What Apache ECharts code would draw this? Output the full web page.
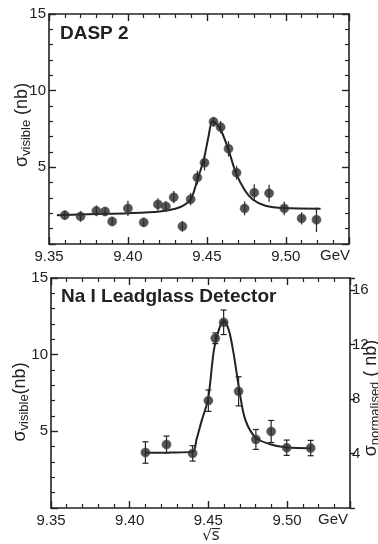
<!DOCTYPE html>
<html>
<head>
<meta charset="utf-8">
<script src="https://cdn.jsdelivr.net/npm/echarts@6/dist/echarts.min.js"></script>
<style>
  html, body { margin: 0; padding: 0; background: #fff; }
  #chart { width: 378px; height: 544px; }
</style>
</head>
<body>
<div id="chart"></div>
<script>
// Upsilon(9.46) scan: DASP 2 (upper panel) and NaI / lead-glass detector (lower panel)

// Upper panel: measured points (GeV, nb) with errors
const daspEnergy = [9.360, 9.370, 9.380, 9.3855, 9.390, 9.400, 9.410, 9.419, 9.424, 9.429,
                    9.4345, 9.4397, 9.444, 9.4485, 9.4542, 9.4587, 9.4637, 9.4688, 9.4739, 9.480,
                    9.4894, 9.499, 9.510, 9.5194];
const daspSigma  = [1.88, 1.80, 2.16, 2.12, 1.47, 2.32, 1.41, 2.58, 2.45, 3.05,
                    1.15, 2.92, 4.33, 5.30, 7.97, 7.62, 6.21, 4.65, 2.32, 3.35,
                    3.31, 2.32, 1.67, 1.58];
const daspError  = [0.30, 0.35, 0.35, 0.30, 0.30, 0.50, 0.30, 0.40, 0.35, 0.40,
                    0.35, 0.40, 0.45, 0.50, 0.30, 0.40, 0.50, 0.45, 0.45, 0.55,
                    0.55, 0.45, 0.40, 0.80];

// Upper panel: fitted resonance curve
const daspFitEnergy = [9.355, 9.380, 9.400, 9.420, 9.430, 9.435, 9.440, 9.444, 9.448, 9.451,
                       9.4535, 9.456, 9.459, 9.4635, 9.4685, 9.474, 9.479, 9.487, 9.499, 9.522];
const daspFitSigma  = [1.88, 1.95, 2.01, 2.12, 2.30, 2.50, 2.95, 4.20, 5.50, 7.00,
                       8.00, 7.85, 7.40, 6.20, 4.60, 3.50, 2.90, 2.50, 2.34, 2.30];

// Lower panel: measured points (GeV, nb) with errors
const naiEnergy = [9.410, 9.4234, 9.440, 9.450, 9.4544, 9.4597, 9.4692, 9.4802, 9.4899, 9.4998, 9.515];
const naiSigma  = [3.62, 4.14, 3.56, 7.00, 11.07, 12.11, 7.61, 4.47, 4.99, 3.93, 3.91];
const naiError  = [0.70, 0.55, 0.50, 0.70, 0.35, 0.80, 0.95, 0.65, 0.72, 0.50, 0.50];

// Lower panel: fitted resonance curve
const naiFitEnergy = [9.410, 9.425, 9.440, 9.4425, 9.446, 9.4498, 9.4535, 9.4566, 9.4597,
                      9.463, 9.466, 9.4698, 9.4734, 9.480, 9.4892, 9.500, 9.515];
const naiFitSigma  = [3.60, 3.62, 3.66, 4.48, 5.78, 7.08, 10.30, 11.60, 12.23,
                      11.60, 10.10, 7.60, 5.78, 4.59, 4.16, 3.94, 3.90];

// Axis labelling
const energyTickLabels = ['9.35', '9.40', '9.45', '9.50'];
const sigmaTickLabels = [5, 10, 15];
const normTickLabels = [4, 8, 12, 16];

const INK = '#222222';
const FONT = '"Liberation Sans", Arial, sans-serif';

const zip = (xs, ys) => xs.map((x, i) => [x, ys[i]]);
const bars = (xs, ys, es) => xs.map((x, i) => [x, ys[i] - es[i], ys[i] + es[i]]);

// Frame axes carry their ticks pointing into the plot
function energyAxis(grid, pos, labels) {
  return {
    type: 'value', gridIndex: grid, position: pos,
    min: 9.35, max: 9.54, interval: 0.05,
    axisLine: { show: true, onZero: false, lineStyle: { color: INK, width: 1.6 } },
    axisTick: { show: true, inside: true, length: 7, lineStyle: { color: INK, width: 1.4 } },
    minorTick: { show: true, splitNumber: 5, length: 4, lineStyle: { color: INK, width: 1.2 } },
    splitLine: { show: false },
    minorSplitLine: { show: false },
    axisLabel: {
      show: labels, margin: 5, color: INK, fontFamily: FONT, fontSize: 15,
      formatter: v => {
        const s = v.toFixed(2);
        return energyTickLabels.includes(s) ? s : '';
      }
    }
  };
}

function sigmaAxis(grid, pos, labels) {
  return {
    type: 'value', gridIndex: grid, position: pos,
    min: 0, max: 15, interval: 5,
    axisLine: { show: true, onZero: false, lineStyle: { color: INK, width: 1.6 } },
    axisTick: { show: true, inside: true, length: 7, lineStyle: { color: INK, width: 1.4 } },
    minorTick: { show: true, splitNumber: 5, length: 4, lineStyle: { color: INK, width: 1.2 } },
    splitLine: { show: false },
    axisLabel: {
      show: labels, margin: 3, color: INK, fontFamily: FONT, fontSize: 15,
      formatter: v => sigmaTickLabels.includes(Math.round(v)) && Math.abs(v - Math.round(v)) < 1e-6 ? String(Math.round(v)) : ''
    }
  };
}

const normAxis = {
  type: 'value', gridIndex: 1, position: 'right',
  min: 0, max: 16.9, interval: 4,
  axisLine: { show: true, onZero: false, lineStyle: { color: INK, width: 1.6 } },
  axisTick: { show: true, inside: false, length: 5, lineStyle: { color: INK, width: 1.4 } },
  splitLine: { show: false },
  axisLabel: {
    show: true, margin: 2, color: INK, fontFamily: FONT, fontSize: 15,
    formatter: v => normTickLabels.includes(v) ? String(v) : ''
  }
};

function errorBars(xi, yi, data, cap) {
  return {
    type: 'custom', xAxisIndex: xi, yAxisIndex: yi, silent: true, z: 3,
    data: data,
    renderItem: (params, api) => {
      const lo = api.coord([api.value(0), api.value(1)]);
      const hi = api.coord([api.value(0), api.value(2)]);
      const st = { stroke: INK, lineWidth: 1.2 };
      const children = [{ type: 'line', shape: { x1: lo[0], y1: lo[1], x2: hi[0], y2: hi[1] }, style: st }];
      if (cap) {
        children.push({ type: 'line', shape: { x1: lo[0] - 3, y1: lo[1], x2: lo[0] + 3, y2: lo[1] }, style: st });
        children.push({ type: 'line', shape: { x1: hi[0] - 3, y1: hi[1], x2: hi[0] + 3, y2: hi[1] }, style: st });
      }
      return { type: 'group', children };
    }
  };
}

function fitLine(xi, yi, data) {
  return {
    type: 'line', xAxisIndex: xi, yAxisIndex: yi, data: data,
    smooth: 0.3, showSymbol: false, silent: true, z: 2,
    lineStyle: { color: INK, width: 2 }
  };
}

function points(xi, yi, data) {
  return {
    type: 'scatter', xAxisIndex: xi, yAxisIndex: yi, data: data,
    symbol: 'circle', symbolSize: 9, silent: true, z: 4,
    itemStyle: { color: '#2b2b2b', borderColor: '#555', borderWidth: 0.8 }
  };
}

function rotatedTitle(x, y, main, sub, tail, size) {
  return {
    type: 'text', x: x, y: y, rotation: Math.PI / 2,
    style: {
      text: '{m|' + main + '}{s|' + sub + '}{m|' + tail + '}',
      align: 'center', verticalAlign: 'middle',
      rich: {
        m: { fontFamily: FONT, fontSize: size, fill: INK, lineHeight: 22, verticalAlign: 'middle' },
        s: { fontFamily: FONT, fontSize: size - 5, fill: INK, lineHeight: 22, verticalAlign: 'bottom' }
      }
    }
  };
}

const chart = echarts.init(document.getElementById('chart'), null, { renderer: 'canvas' });

chart.setOption({
  backgroundColor: '#ffffff',
  animation: false,
  grid: [
    { left: 49, top: 14, width: 300, height: 230 },
    { left: 51, top: 278, width: 299, height: 230 }
  ],
  xAxis: [
    energyAxis(0, 'bottom', true),
    energyAxis(0, 'top', false),
    energyAxis(1, 'bottom', true),
    energyAxis(1, 'top', false)
  ],
  yAxis: [
    sigmaAxis(0, 'left', true),
    sigmaAxis(0, 'right', false),
    sigmaAxis(1, 'left', true),
    normAxis
  ],
  series: [
    fitLine(0, 0, zip(daspFitEnergy, daspFitSigma)),
    errorBars(0, 0, bars(daspEnergy, daspSigma, daspError), false),
    points(0, 0, zip(daspEnergy, daspSigma)),
    fitLine(2, 2, zip(naiFitEnergy, naiFitSigma)),
    errorBars(2, 2, bars(naiEnergy, naiSigma, naiError), true),
    points(2, 2, zip(naiEnergy, naiSigma))
  ],
  graphic: [
    { type: 'text', x: 60, y: 34, style: { text: 'DASP 2', fontFamily: FONT, fontWeight: 'bold', fontSize: 19, fill: INK, verticalAlign: 'middle' } },
    { type: 'text', x: 61, y: 297, style: { text: 'Na I Leadglass Detector', fontFamily: FONT, fontWeight: 'bold', fontSize: 19, fill: INK, verticalAlign: 'middle' } },
    { type: 'text', x: 320, y: 256, style: { text: 'GeV', fontFamily: FONT, fontSize: 15, fill: INK, verticalAlign: 'middle' } },
    { type: 'text', x: 318, y: 520, style: { text: 'GeV', fontFamily: FONT, fontSize: 15, fill: INK, verticalAlign: 'middle' } },
    { type: 'text', x: 211, y: 536, style: { text: '√s̅', fontFamily: '"DejaVu Sans", sans-serif', fontSize: 15, fill: INK, align: 'center', verticalAlign: 'middle' } },
    rotatedTitle(22, 125, 'σ', 'visible', ' (nb)', 18),
    rotatedTitle(20, 402, 'σ', 'visible', '(nb)', 18),
    rotatedTitle(371, 398, 'σ', 'normalised', ' ( nb)', 18)
  ]
});
</script>
</body>
</html>
